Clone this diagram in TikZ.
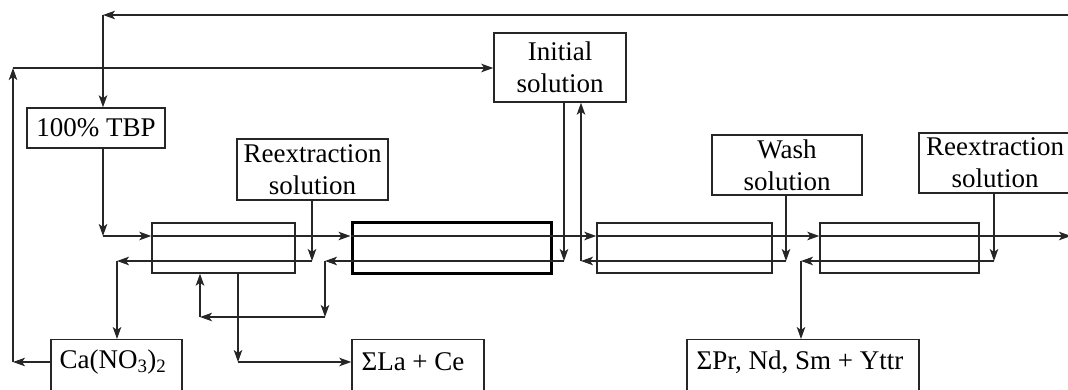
\documentclass[tikz,border=0pt]{standalone}
\usepackage{fontspec}
\setmainfont{Liberation Serif}
\usetikzlibrary{arrows.meta}
\begin{document}
\begin{tikzpicture}[x=1pt,y=-1pt,
  line width=1.4pt,
  arr/.style={draw=black!85,-{Stealth[length=12pt,width=8.5pt,inset=3pt]}},
  tbox/.style={draw=black!85, align=center, inner sep=0pt, font=\fontsize{27}{32}\selectfont},
  stage/.style={draw=black!85, inner sep=0pt, minimum height=50pt},
  thickstage/.style={stage, draw=black, line width=3pt},
  obox/.style={draw=black!85, inner sep=0pt, minimum height=61pt, anchor=north},
  otext/.style={inner sep=0pt, font=\fontsize{27}{32}\selectfont}
]
\useasboundingbox (0,0) rectangle (1068,390);
\clip (0,0) rectangle (1068,390);

% input boxes
\node[tbox, minimum width=138pt, minimum height=40pt] (tbp) at (96,128) {100\% TBP};
\node[tbox, minimum width=151pt, minimum height=61pt] (rxa) at (312.5,169.5) {Reextraction\\solution};
\node[tbox, minimum width=132pt, minimum height=69pt] (init) at (560,67.5) {Initial\\solution};
\node[tbox, minimum width=150pt, minimum height=60pt] (wash) at (787,165) {Wash\\solution};
\node[tbox, minimum width=152pt, minimum height=60pt] (rxb) at (995,163) {Reextraction\\solution};

% stages
\node[stage, minimum width=143pt] (s1) at (223.5,248) {};
\node[thickstage, minimum width=199pt] (s2) at (451.5,248) {};
\node[stage, minimum width=175pt] (s3) at (684.5,248) {};
\node[stage, minimum width=159pt] (s4) at (899.5,248) {};

% output boxes
\node[obox, minimum width=131pt] (cabox) at (116.5,339) {};
\node[otext] (ca) at (113,362) {Ca(NO\textsubscript{3})\textsubscript{2}};
\node[obox, minimum width=132pt] (labox) at (418,339) {};
\node[otext] (la) at (413,362) {ΣLa + Ce};
\node[obox, minimum width=232pt] (prbox) at (803,339) {};
\node[otext] (pr) at (800,362) {ΣPr, Nd, Sm + Yttr};

% top recycle
\coordinate (tr) at (1070,15);
\coordinate (tl) at (103,15);
\draw[arr] (tr) -- (tl);
\draw[arr] (tl) -- (tl |- tbp.north);

% organic (upper) line
\coordinate (fa) at (103,236);
\coordinate (fe) at (1071,236);
\draw[arr] (tbp.south -| fa) -- (fa);
\draw[arr] (fa) -- (fa -| s1.west);
\draw[arr] (fa -| s1.west) -- (fa -| s2.west);
\draw[arr] (fa -| s2.west) -- (fa -| s3.west);
\draw[arr] (fa -| s3.west) -- (fa -| s4.west);
\draw[arr] (fa -| s4.west) -- (fe);

% first reextraction
\coordinate (ra) at (312,261);
\coordinate (ca1) at (117,261);
\draw[arr] (rxa.south -| ra) -- (ra);
\draw[arr] (ra) -- (ca1);
\draw[arr] (ca1) -- (ca1 |- cabox.north);

% initial solution loop
\coordinate (i1) at (564,261);
\coordinate (r2) at (325,261);
\coordinate (r3) at (325,317);
\coordinate (r4) at (200,317);
\draw[arr] (init.south -| i1) -- (i1);
\draw[arr] (i1) -- (r2);
\draw[arr] (r2) -- (r3);
\draw[arr] (r3) -- (r4);
\draw[arr] (r4) -- (r4 |- s1.south);

\coordinate (i2) at (581,261);
\coordinate (w1) at (786,261);
\draw[arr] (i2) -- (i2 |- init.south);
\draw[arr] (wash.south -| w1) -- (w1);
\draw[arr] (w1) -- (i2);

% second reextraction
\coordinate (x1) at (994,261);
\coordinate (p1) at (801,261);
\draw[arr] (rxb.south -| x1) -- (x1);
\draw[arr] (x1) -- (p1);
\draw[arr] (p1) -- (p1 |- prbox.north);

% La+Ce output
\coordinate (l1) at (238,362);
\draw[arr] (s1.south -| l1) -- (l1);
\draw[arr] (l1) -- (l1 -| labox.west);

% Ca(NO3)2 recycle
\coordinate (c1) at (13,362);
\coordinate (c2) at (13,68);
\draw[arr] (cabox.west |- c1) -- (c1);
\draw[arr] (c1) -- (c2);
\draw[arr] (c2) -- (c2 -| init.west);
\end{tikzpicture}
\end{document}
